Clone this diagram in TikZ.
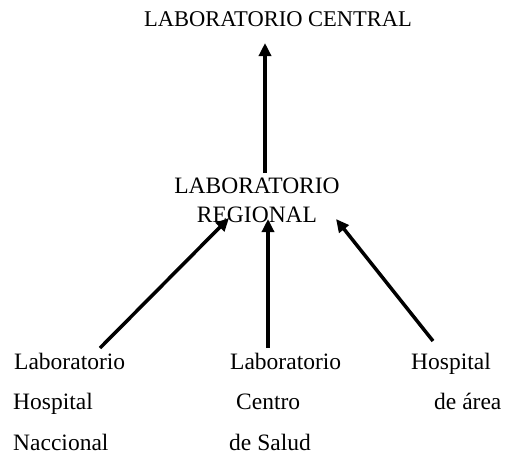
\documentclass[tikz,border=0pt]{standalone}
\usepackage{fontspec}
\setmainfont{Liberation Serif}
\usetikzlibrary{arrows.meta}
\begin{document}
\begin{tikzpicture}[x=1pt,y=1pt,
  lbl/.style={inner sep=0pt,anchor=base west,font=\fontsize{23.5}{28}\selectfont},
  conn/.style={line width=3.5pt,-{Triangle[length=13pt,width=12pt]}}]
\useasboundingbox (0,0) rectangle (513,-463);
\node[lbl,anchor=base,font=\fontsize{22.5}{27}\selectfont] (central) at (278,-26) {LABORATORIO CENTRAL};
\node[lbl,anchor=base] (reg1) at (257,-193) {LABORATORIO};
\node[lbl,anchor=base] (reg2) at (257,-222) {REGIONAL};
% left column
\node[lbl] (l1) at (14,-369) {Laboratorio};
\node[lbl] (l2) at (13,-409) {Hospital};
\node[lbl] (l3) at (13,-450) {Naccional};
% middle column
\node[lbl] (m1) at (230,-369) {Laboratorio};
\node[lbl] (m2) at (236,-409) {Centro};
\node[lbl] (m3) at (229,-450) {de Salud};
% right column
\node[lbl] (r1) at (411,-369) {Hospital};
\node[lbl] (r2) at (434,-409) {de área};
% connector ends
\coordinate (c0s) at (265,-173);
\coordinate (c0e) at (265,-43);
\coordinate (c1s) at (100,-348);
\coordinate (c1e) at (229,-218);
\coordinate (c2s) at (268,-348);
\coordinate (c2e) at (268,-219);
\coordinate (c3s) at (433,-341);
\coordinate (c3e) at (336,-219);
\draw[conn] (c0s) -- (c0e);
\draw[conn] (c1s) -- (c1e);
\draw[conn] (c2s) -- (c2e);
\draw[conn] (c3s) -- (c3e);
\end{tikzpicture}
\end{document}
